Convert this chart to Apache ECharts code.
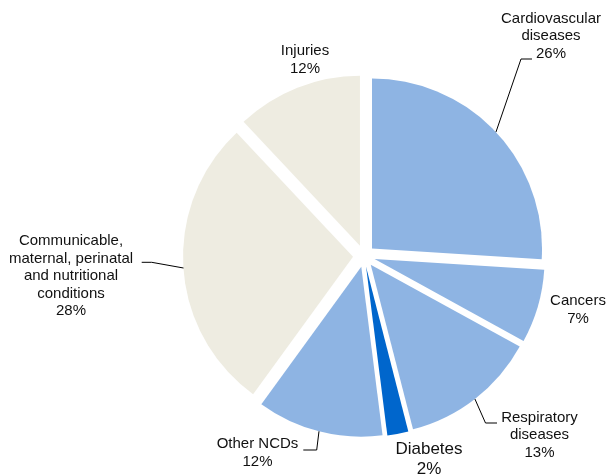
<!DOCTYPE html>
<html><head><meta charset="utf-8">
<script src="https://cdn.jsdelivr.net/npm/echarts@6/dist/echarts.min.js"></script>
<style>html,body{margin:0;padding:0;background:#fff}#c{width:608px;height:475px}</style>
</head><body><div id="c"></div>
<script>
const categories = [
  'Cardiovascular\ndiseases',
  'Cancers',
  'Respiratory\ndiseases',
  'Diabetes',
  'Other NCDs',
  'Communicable,\nmaternal, perinatal\nand nutritional\nconditions',
  'Injuries'
];
const values = [26, 7, 13, 2, 12, 28, 12];
const colors = ['#8EB4E3', '#8EB4E3', '#8EB4E3', '#0066CC', '#8EB4E3', '#EEECE1', '#EEECE1'];

// label anchors (centre of text block) and leader-line elbow/end points
const labelPos = [
  { x: 551, y: 36, line: [[521, 59], [532, 59]] },
  { x: 578, y: 310 },
  { x: 539.5, y: 435, line: [[485.5, 423], [497, 423]] },
  { x: 429, y: 459, fontSize: 17, lineHeight: 20 },
  { x: 257.5, y: 453, line: [[316.7, 450], [303.3, 450]] },
  { x: 71, y: 276, start: [183.5, 268], line: [[151.7, 262.3], [141.7, 262.3]] },
  { x: 305, y: 60 }
];

const CENTER = [364, 256];
const RADIUS = 170;
const EXPLODE = 11;

const chart = echarts.init(document.getElementById('c'), null, { renderer: 'canvas' });
chart.setOption({
  animation: false,
  backgroundColor: '#fff',
  series: [{
    // exploded slices
    type: 'pie',
    center: CENTER,
    radius: RADIUS,
    startAngle: 90,
    clockwise: true,
    selectedMode: 'multiple',
    selectedOffset: EXPLODE,
    silent: true,
    emphasis: { disabled: true, scale: false },
    itemStyle: { borderWidth: 0 },
    select: { itemStyle: { borderWidth: 0 } },
    label: { show: false },
    labelLine: { show: false },
    data: categories.map((n, i) => ({
      name: n, value: values[i], selected: true,
      itemStyle: { color: colors[i] }
    }))
  }, {
    // labels with leader lines (same data, transparent sectors)
    type: 'pie',
    center: CENTER,
    radius: RADIUS + EXPLODE,
    startAngle: 90,
    clockwise: true,
    selectedMode: false,
    avoidLabelOverlap: false,
    silent: true,
    z: 3,
    emphasis: { disabled: true, scale: false },
    itemStyle: { color: 'rgba(0,0,0,0)', borderWidth: 0 },
    label: {
      show: true,
      position: 'outside',
      formatter: '{b}\n{c}%',
      fontFamily: 'Liberation Sans, Arial, sans-serif',
      fontSize: 15,
      lineHeight: 17.5,
      color: '#111',
      align: 'center'
    },
    labelLine: { show: true, smooth: false, lineStyle: { color: '#000', width: 1 } },
    labelLayout: function (params) {
      const p = labelPos[params.dataIndex];
      const res = { x: p.x, y: p.y, align: 'center', verticalAlign: 'middle' };
      if (p.line && params.labelLinePoints) {
        res.labelLinePoints = [p.start || params.labelLinePoints[0], p.line[0], p.line[1]];
      }
      return res;
    },
    data: categories.map((n, i) => {
      const p = labelPos[i];
      const item = {
        name: n, value: values[i],
        labelLine: { show: !!p.line }
      };
      if (p.fontSize) item.label = { fontSize: p.fontSize, lineHeight: p.lineHeight };
      return item;
    })
  }]
});
</script>
</body></html>
